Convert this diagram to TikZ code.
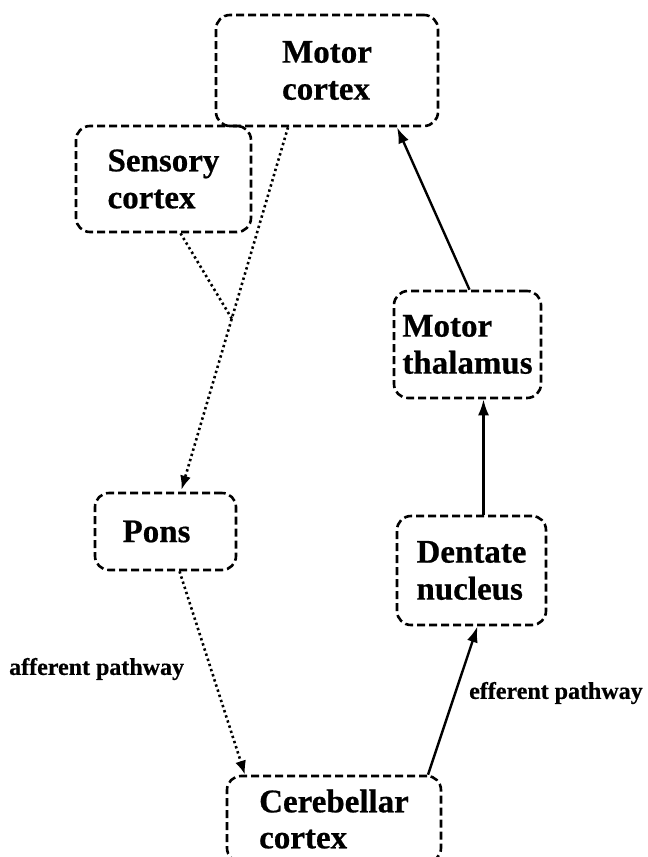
\documentclass[tikz,border=0pt]{standalone}
\usepackage{fontspec}
\setmainfont{Liberation Serif}[BoldFeatures={FakeBold=0.6}]
\usetikzlibrary{arrows.meta,calc}
\begin{document}
\begin{tikzpicture}[x=1pt,y=-1pt,
  box/.style={draw, line width=2.6pt, dash pattern=on 8pt off 4pt, rounded corners=14pt,
    inner sep=0pt, align=left, font=\fontsize{33}{37}\selectfont\bfseries},
  solidarrow/.style={line width=2.4pt, -{Latex[length=16pt,width=11pt]}},
  dotline/.style={line width=2.6pt, dash pattern=on 2.4pt off 3pt},
  dotarrow/.style={dotline, -{Latex[length=14pt,width=11pt]}},
  lbl/.style={font=\fontsize{24}{28}\selectfont\bfseries, anchor=west, inner sep=0pt}]
\useasboundingbox (0,0) rectangle (648,857);

\node[box, minimum width=222pt, minimum height=111pt] (mc) at (327,70.5) {Motor\\cortex};
\node[box, minimum width=175pt, minimum height=106pt] (sc) at (163.5,179) {Sensory\\cortex};
\node[box, minimum width=147pt, minimum height=107pt] (mt) at (467.5,344.5) {Motor\\thalamus};
\node[box, minimum width=141pt, minimum height=77pt] (pons) at (165.5,531.5) {Pons\hspace*{18pt}};
\node[box, minimum width=149pt, minimum height=109pt] (dn) at (471.5,570.5) {Dentate\\nucleus};
\node[box, minimum width=214pt, minimum height=86pt, font=\fontsize{33}{36}\selectfont\bfseries] (cc) at (334,819) {Cerebellar\\cortex};

\node[lbl] (aff) at (9,669) {afferent pathway};
\node[lbl] (eff) at (469,693) {efferent pathway};

\coordinate (j) at ($([xshift=-39pt]mc.south)!0.526!([xshift=16pt]pons.north)$);
\draw[dotarrow] ([xshift=-39pt]mc.south) -- ([xshift=16pt,yshift=2pt]pons.north);
\draw[dotline] ([xshift=17pt]sc.south) -- (j);
\draw[dotarrow] ([xshift=14pt]pons.south) -- ([xshift=-89pt]cc.north);
\draw[solidarrow] ([xshift=94pt]cc.north) -- ([xshift=6pt]dn.south);
\draw[solidarrow] ([xshift=12pt]dn.north) -- ([xshift=16pt]mt.south);
\draw[solidarrow] ([xshift=2pt]mt.north) -- ([xshift=70pt]mc.south);
\end{tikzpicture}
\end{document}
